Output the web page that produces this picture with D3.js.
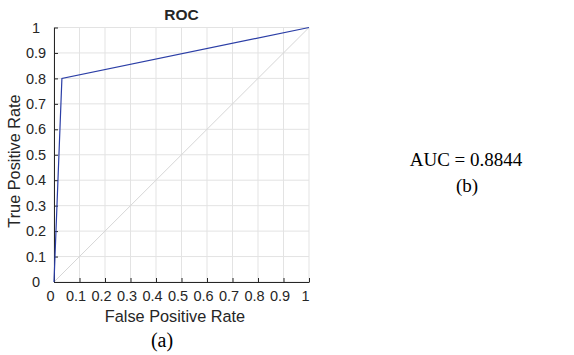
<!DOCTYPE html>
<html>
<head>
<meta charset="utf-8">
<script src="https://cdn.jsdelivr.net/npm/d3@7"></script>
<style>
  body { margin: 0; background: #fff; }
  svg text { font-family: "Liberation Sans", Arial, sans-serif; fill: #262626; }
  .serif { font-family: "Liberation Serif", "DejaVu Serif", serif; fill: #000; }
</style>
</head>
<body>
<svg id="chart" width="574" height="355"></svg>
<script>
// ROC curve points
let fpr = [0, 0.031, 1];
let tpr = [0, 0.8, 1];
let chance = [0, 1];
let ticks = [0, 0.1, 0.2, 0.3, 0.4, 0.5, 0.6, 0.7, 0.8, 0.9, 1];
let aucValue = 0.8844;

let svg = d3.select('#chart');
let x = d3.scaleLinear().domain([0, 1]).range([54, 309]);
let y = d3.scaleLinear().domain([0, 1]).range([282, 27.5]);
let fmt = d => d === 0 || d === 1 ? String(d) : d.toFixed(1);
let sans = '"Liberation Sans", Arial, sans-serif';

// grid
let grid = svg.append('g').attr('class', 'grid');
ticks.forEach(t => {
  grid.append('line')
    .attr('x1', x(t)).attr('x2', x(t))
    .attr('y1', y(0)).attr('y2', y(1))
    .attr('stroke', '#e3e3e3').attr('stroke-width', 1);
  grid.append('line')
    .attr('x1', x(0)).attr('x2', x(1))
    .attr('y1', y(t)).attr('y2', y(t))
    .attr('stroke', '#e3e3e3').attr('stroke-width', 1);
});

// chance diagonal
svg.append('line')
  .attr('x1', x(chance[0])).attr('y1', y(chance[0]))
  .attr('x2', x(chance[1])).attr('y2', y(chance[1]))
  .attr('stroke', '#d6d6d6').attr('stroke-width', 1);

// axes
let xAxis = d3.axisBottom(x).tickValues(ticks).tickSize(-4).tickSizeOuter(0).tickPadding(9).tickFormat(fmt);
let gx = svg.append('g').attr('transform', 'translate(0,' + y(0) + ')').call(xAxis);
gx.select('.domain').attr('stroke', '#262626');
gx.selectAll('.tick line').attr('stroke', '#262626');
gx.selectAll('text').attr('font-size', 14.5).attr('dx', -4)
  .style('fill', '#262626').style('font-family', sans);

let yAxis = d3.axisLeft(y).tickValues(ticks).tickSize(-4).tickSizeOuter(0).tickPadding(18).tickFormat(fmt);
let gy = svg.append('g').attr('transform', 'translate(' + x(0) + ',0)').call(yAxis);
gy.select('.domain').attr('stroke', '#262626');
gy.selectAll('.tick line').attr('stroke', '#262626');
gy.selectAll('text').attr('font-size', 14.5).attr('text-anchor', 'middle')
  .style('fill', '#262626').style('font-family', sans);

// ROC line
let line = d3.line().x((d, i) => x(fpr[i])).y((d, i) => y(tpr[i]));
svg.append('path')
  .datum(fpr)
  .attr('d', line)
  .attr('fill', 'none')
  .attr('stroke', '#2b3ea6')
  .attr('stroke-width', 1.2);

// labels
svg.append('text')
  .attr('x', (x(0) + x(1)) / 2).attr('y', 20)
  .attr('text-anchor', 'middle').attr('font-size', 15.5).attr('font-weight', 'bold')
  .text('ROC');
svg.append('text')
  .attr('x', 175).attr('y', 322)
  .attr('text-anchor', 'middle').attr('font-size', 16.3)
  .text('False Positive Rate');
svg.append('text')
  .attr('transform', 'translate(20,161) rotate(-90)')
  .attr('text-anchor', 'middle').attr('font-size', 16.3)
  .text('True Positive Rate');

svg.append('text').attr('class', 'serif')
  .attr('x', 162).attr('y', 347)
  .attr('text-anchor', 'middle').attr('font-size', 20)
  .text('(a)');
svg.append('text').attr('class', 'serif')
  .attr('x', 466).attr('y', 166)
  .attr('text-anchor', 'middle').attr('font-size', 19)
  .text('AUC = ' + aucValue);
svg.append('text').attr('class', 'serif')
  .attr('x', 467).attr('y', 192)
  .attr('text-anchor', 'middle').attr('font-size', 19)
  .text('(b)');
</script>
</body>
</html>
